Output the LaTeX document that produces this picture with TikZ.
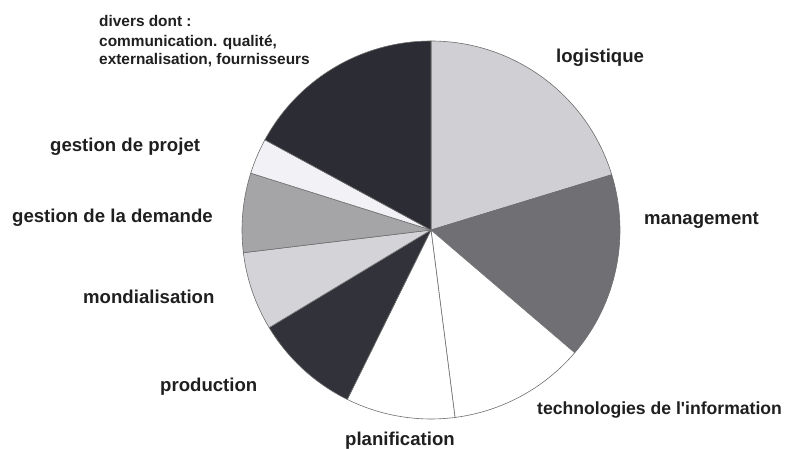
\documentclass[tikz,border=0pt]{standalone}
\usepackage{fontspec}
\setmainfont{Liberation Sans}
\definecolor{cLog}{RGB}{208,208,212}
\definecolor{cMan}{RGB}{112,112,116}
\definecolor{cTech}{RGB}{255,255,255}
\definecolor{cPlan}{RGB}{255,255,255}
\definecolor{cProd}{RGB}{50,50,58}
\definecolor{cMond}{RGB}{212,212,216}
\definecolor{cDem}{RGB}{165,165,168}
\definecolor{cProj}{RGB}{242,242,246}
\definecolor{cDiv}{RGB}{44,44,52}
\definecolor{cEdge}{RGB}{110,110,110}
\tikzset{
  slice/.style={fill=#1, draw=cEdge, line width=0.6pt, line join=round},
  lbl/.style={anchor=base west, inner sep=0pt, font=\fontsize{18.6}{22}\selectfont\bfseries, text=black!88},
  divlbl/.style={anchor=base west, inner sep=0pt, font=\fontsize{15.4}{19}\selectfont\bfseries, text=black!88},
}
\newcommand{\pieslice}[3]{%
  \filldraw[slice=#3] (pc) -- ($(pc)+(#1:189)$) arc[start angle=#1, end angle=#2, radius=189] -- cycle;}
\usetikzlibrary{calc}
\begin{document}
\begin{tikzpicture}[x=1pt,y=1pt]
\useasboundingbox (0,0) rectangle (790,449);
\coordinate (pc) at (431,219);
\pieslice{17}{90}{cLog}
\pieslice{-40.5}{17}{cMan}
\pieslice{-82.7}{-40.5}{cTech}
\pieslice{-116.3}{-82.7}{cPlan}
\pieslice{-148.9}{-116.3}{cProd}
\pieslice{-173.1}{-148.9}{cMond}
\pieslice{162.5}{186.9}{cDem}
\pieslice{151.5}{162.5}{cProj}
\pieslice{90}{151.5}{cDiv}
\node[lbl] (log) at (556,386) {logistique};
\node[lbl] (man) at (644,224) {management};
\node[lbl, font=\fontsize{17.6}{21}\selectfont\bfseries] (tech) at (537,34) {technologies de l\textquotesingle information};
\node[lbl] (plan) at (345,3) {planification};
\node[lbl] (prod) at (160,57) {production};
\node[lbl] (mond) at (83,145) {mondialisation};
\node[lbl] (dem) at (12,226) {gestion de la demande};
\node[lbl] (proj) at (50,297) {gestion de projet};
\node[divlbl] (divA) at (99,422.5) {divers dont :};
\node[divlbl] (divB) at (99,402.5) {communication. qualité,};
\node[divlbl] (divC) at (99,384) {externalisation, fournisseurs};
\end{tikzpicture}
\end{document}
